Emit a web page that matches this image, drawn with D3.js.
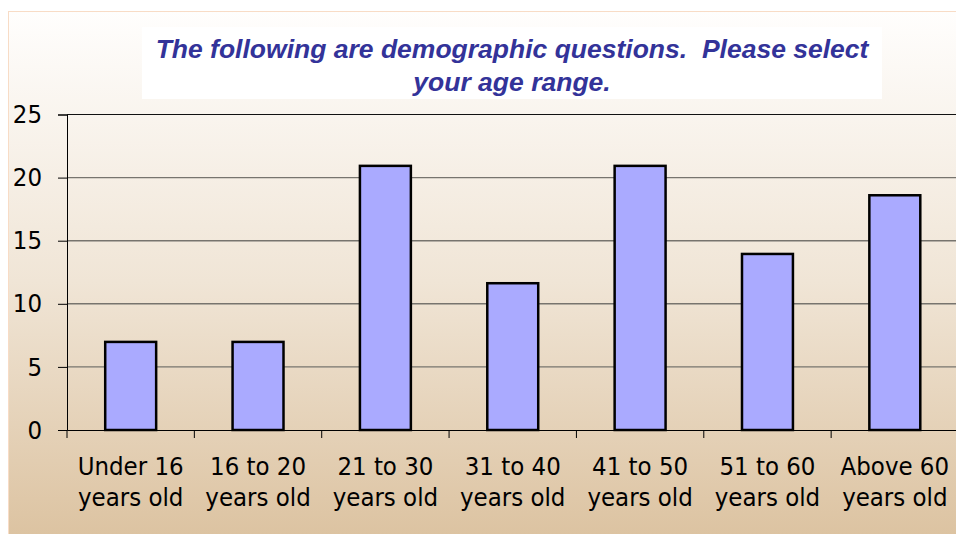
<!DOCTYPE html>
<html>
<head>
<meta charset="utf-8">
<script src="https://cdn.jsdelivr.net/npm/d3@7"></script>
<style>
body { margin:0; background:#fff; }
</style>
</head>
<body>
<svg id="chart" width="956" height="534"></svg>
<script>
// chart data
var categories = ["Under 16|years old", "16 to 20|years old", "21 to 30|years old", "31 to 40|years old",
                  "41 to 50|years old", "51 to 60|years old", "Above 60|years old"];
var values = [6.98, 6.98, 20.93, 11.63, 20.93, 13.95, 18.60];
var yTicks = [0, 5, 10, 15, 20, 25];
var titleLines = ["The following are demographic questions.  Please select", "your age range."];

(function() {
var svg = d3.select("#chart");
var plotLeft = 67, plotTop = 114.5, plotBottom = 430, plotRight = 958.5;
var labelFont = "'DejaVu Sans Condensed', 'DejaVu Sans', sans-serif";

// background gradient
var grad = svg.append("defs").append("linearGradient")
  .attr("id", "bg").attr("x1", 0).attr("y1", 0).attr("x2", 0).attr("y2", 1);
grad.append("stop").attr("offset", "0%").attr("stop-color", "#fffefd");
grad.append("stop").attr("offset", "50%").attr("stop-color", "#f0e5d6");
grad.append("stop").attr("offset", "100%").attr("stop-color", "#dbc19e");

svg.append("rect")
  .attr("x", 8.5).attr("y", 11.5).attr("width", 960).attr("height", 540)
  .attr("fill", "url(#bg)").attr("stroke", "#f8dcc6").attr("stroke-width", 1);

var x = d3.scaleBand().domain(categories).range([plotLeft, plotRight]).paddingInner(0.6).paddingOuter(0.3);
var xb = d3.scaleBand().domain(categories).range([plotLeft, plotRight]);
var y = d3.scaleLinear().domain([0, 25]).range([plotBottom, plotTop]);

// gridlines
svg.append("g").selectAll("line").data(yTicks.filter(function(d){ return d > 0 && d < 25; }))
  .join("line")
  .attr("x1", plotLeft).attr("x2", plotRight)
  .attr("y1", function(d){ return y(d); }).attr("y2", function(d){ return y(d); })
  .attr("stroke", "#77746e").attr("stroke-width", 1.4);

svg.append("line").attr("x1", plotLeft).attr("x2", plotRight).attr("y1", y(25)).attr("y2", y(25))
  .attr("stroke", "#111").attr("stroke-width", 1);

// bars
svg.append("g").selectAll("rect").data(values).join("rect")
  .attr("x", function(d, i){ return x(categories[i]); })
  .attr("width", x.bandwidth())
  .attr("y", function(d){ return y(d); })
  .attr("height", function(d){ return y(0) - y(d); })
  .attr("fill", "#aaaaff").attr("stroke", "#000").attr("stroke-width", 2.5);

// y axis
var yAxis = svg.append("g").attr("transform", "translate(" + plotLeft + ",0)")
  .call(d3.axisLeft(y).tickValues(yTicks).tickSize(9).tickPadding(16));
yAxis.select(".domain").attr("stroke", "#000");
yAxis.selectAll(".tick line").attr("stroke", "#000");
yAxis.selectAll("text").attr("font-family", labelFont)
  .attr("font-size", 25.5).attr("fill", "#000");

// x axis
var xAxis = svg.append("g").attr("transform", "translate(0," + plotBottom + ")")
  .call(d3.axisBottom(xb).tickSize(0).tickFormat(""));
xAxis.select(".domain").attr("stroke", "#000");
svg.append("g").selectAll("line").data(categories).join("line")
  .attr("x1", function(d){ return xb(d); }).attr("x2", function(d){ return xb(d); })
  .attr("y1", plotBottom).attr("y2", plotBottom + 8)
  .attr("stroke", "#000");

var lab = svg.append("g").selectAll("text").data(categories).join("text")
  .attr("y", 475)
  .attr("text-anchor", "middle")
  .attr("font-family", labelFont)
  .attr("font-size", 25.5).attr("fill", "#000");
lab.selectAll("tspan").data(function(d){ return d.split("|").map(function(t){ return {cat: d, t: t}; }); })
  .join("tspan")
  .attr("x", function(d){ return xb(d.cat) + xb.bandwidth() / 2; })
  .attr("dy", function(d, i){ return i ? 31 : 0; })
  .text(function(d){ return d.t; });

// title
svg.append("rect").attr("x", 142).attr("y", 27).attr("width", 740).attr("height", 72).attr("fill", "#fff");
svg.append("g").selectAll("text").data(titleLines).join("text")
  .attr("x", 512).attr("y", function(d, i){ return 57.5 + i * 33; })
  .attr("text-anchor", "middle")
  .attr("font-family", "'Liberation Sans', Arial, sans-serif")
  .attr("font-weight", "bold").attr("font-style", "italic")
  .attr("font-size", 26.5).attr("fill", "#333399")
  .style("white-space", "pre")
  .text(function(d){ return d; });
})();
</script>
</body>
</html>
